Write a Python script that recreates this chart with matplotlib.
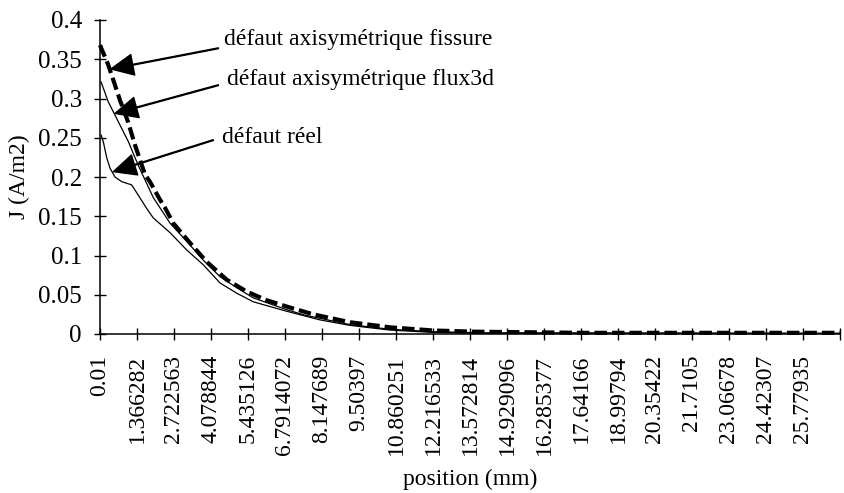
import matplotlib

matplotlib.use("Agg")
import matplotlib.pyplot as plt

plt.rcParams['font.family'] = ['Liberation Serif', 'DejaVu Serif']

# position (mm) labels of the category axis
x_labels = ["0.01", "1.366282", "2.722563", "4.078844", "5.435126", "6.7914072",
            "8.147689", "9.50397", "10.860251", "12.216533", "13.572814",
            "14.929096", "16.285377", "17.64166", "18.99794", "20.35422",
            "21.7105", "23.06678", "24.42307", "25.77935"]
x_end = 27.13564

# défaut axisymétrique fissure
x_fissure = [0.01, 0.31, 0.56, 0.74, 1.04, 1.29, 1.66, 1.84, 2.21, 2.39, 2.70,
             3.31, 3.92, 4.66, 5.39, 6.12, 6.85, 7.83, 9.17, 10.64, 12.22,
             13.68, 17.71, 22.0, 27.13]
j_fissure = [0.368, 0.343, 0.317, 0.298, 0.270, 0.241, 0.203, 0.194, 0.171,
             0.161, 0.141, 0.116, 0.092, 0.069, 0.054, 0.043, 0.035, 0.025,
             0.015, 0.0085, 0.0045, 0.003, 0.0015, 0.0015, 0.0015]

# défaut axisymétrique flux3d
x_flux = [0.05, 0.31, 0.68, 1.05, 1.41, 1.96, 2.58, 3.19, 3.80, 4.41, 5.02,
          5.63, 6.85, 7.52, 8.07, 9.17, 10.64, 12.22, 14.0, 27.13]
j_flux = [0.321, 0.296, 0.2705, 0.245, 0.215, 0.174, 0.141, 0.118, 0.094,
          0.073, 0.059, 0.046, 0.031, 0.024, 0.020, 0.012, 0.006, 0.003,
          0.0015, 0.001]

# défaut réel
x_reel = [0.05, 0.13, 0.26, 0.38, 0.56, 0.81, 1.17, 1.30, 1.50, 1.72, 1.96,
          2.58, 3.19, 3.80, 4.41, 5.02, 5.63, 6.85, 8.07, 9.17, 10.64, 12.22,
          14.0, 27.13]
j_reel = [0.2535, 0.245, 0.224, 0.211, 0.200, 0.194, 0.190, 0.183, 0.172,
          0.160, 0.148, 0.129, 0.107, 0.088, 0.065, 0.052, 0.041, 0.029,
          0.018, 0.011, 0.005, 0.002, 0.001, 0.0005]

fig = plt.figure(figsize=(8.45, 4.93), dpi=100)
ax = fig.add_axes([100 / 845, 1 - 334 / 493, 740 / 845, 314 / 493])

ax.plot(x_reel, j_reel, color='black', linewidth=0.9)
ax.plot(x_flux, j_flux, color='black', linewidth=0.9)
ax.plot(x_fissure, j_fissure, color='black', linewidth=3.0, dashes=(3.0, 1.2),
        clip_on=False)

# annotations
arrow = dict(facecolor='black', edgecolor='black', width=0.6, headwidth=15,
             headlength=16, shrink=0)
ax.annotate("", xy=(0.41, 0.3376), xytext=(4.35, 0.364), arrowprops=arrow)
ax.annotate("", xy=(0.56, 0.281), xytext=(4.35, 0.317), arrowprops=arrow)
ax.annotate("", xy=(0.50, 0.2068), xytext=(4.16, 0.247), arrowprops=arrow)
ax.text(4.56, 0.368, "défaut axisymétrique fissure", fontsize=17, va='baseline')
ax.text(4.66, 0.3172, "défaut axisymétrique flux3d", fontsize=17, va='baseline')
ax.text(4.48, 0.243, "défaut réel", fontsize=17, va='baseline')

ax.set_xlim(0.01, x_end)
ax.set_ylim(0, 0.4)
ax.set_xticks([float(v) for v in x_labels] + [x_end])
ax.set_xticklabels(x_labels + [""], rotation=90, fontsize=17)
ax.set_yticks([0, 0.05, 0.1, 0.15, 0.2, 0.25, 0.3, 0.35, 0.4])
ax.set_yticklabels(["0", "0.05", "0.1", "0.15", "0.2", "0.25", "0.3", "0.35", "0.4"],
                   fontsize=18)
ax.tick_params(axis='both', direction='inout', length=8, width=1, pad=9)
ax.tick_params(axis='x', pad=11)

ax.spines['top'].set_visible(False)
ax.spines['right'].set_visible(False)
ax.spines['left'].set_linewidth(1.1)
ax.spines['bottom'].set_linewidth(1.1)

ax.set_xlabel("position (mm)", fontsize=17, labelpad=10)
ax.set_ylabel("J (A/m2)", fontsize=17, labelpad=6)

fig.savefig("out.png", dpi=100)
